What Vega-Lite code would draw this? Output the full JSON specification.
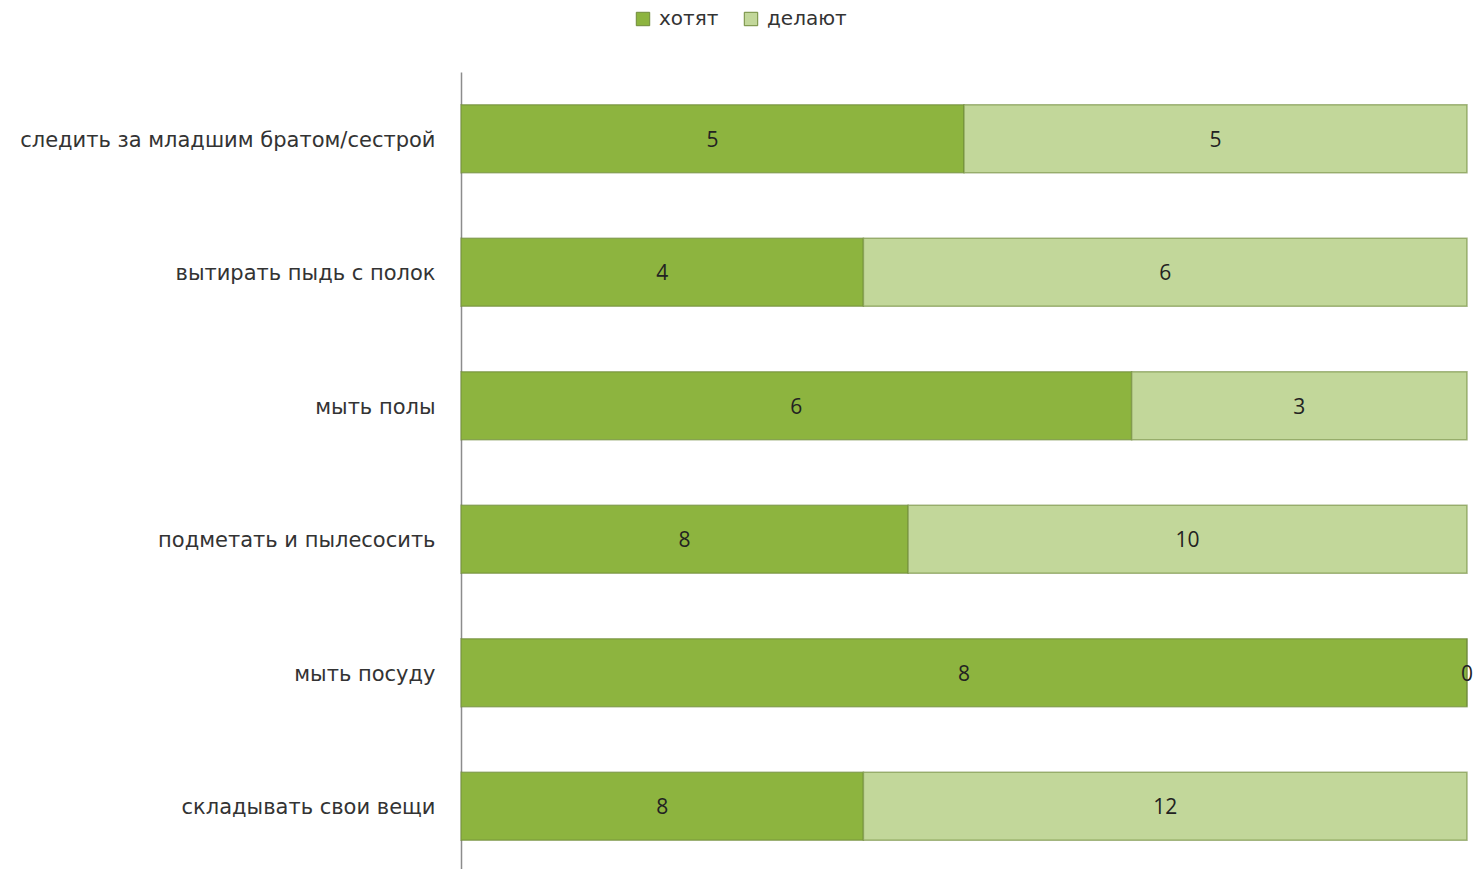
{
  "$schema": "https://vega.github.io/schema/vega-lite/v6.json",
  "autosize": "none",
  "padding": {"left": 461, "top": 72, "right": 11, "bottom": 0},
  "width": 1006,
  "height": 801,
  "background": "white",
  "view": {"stroke": null},
  "data": {"values": [
    {"task": "следить за младшим братом/сестрой", "series": "хотят", "k": 1, "value": 5},
    {"task": "следить за младшим братом/сестрой", "series": "делают", "k": 2, "value": 5},
    {"task": "вытирать пыдь с полок", "series": "хотят", "k": 1, "value": 4},
    {"task": "вытирать пыдь с полок", "series": "делают", "k": 2, "value": 6},
    {"task": "мыть полы", "series": "хотят", "k": 1, "value": 6},
    {"task": "мыть полы", "series": "делают", "k": 2, "value": 3},
    {"task": "подметать и пылесосить", "series": "хотят", "k": 1, "value": 8},
    {"task": "подметать и пылесосить", "series": "делают", "k": 2, "value": 10},
    {"task": "мыть посуду", "series": "хотят", "k": 1, "value": 8},
    {"task": "мыть посуду", "series": "делают", "k": 2, "value": 0},
    {"task": "складывать свои вещи", "series": "хотят", "k": 1, "value": 8},
    {"task": "складывать свои вещи", "series": "делают", "k": 2, "value": 12}
  ]},
  "encoding": {
    "y": {
      "field": "task", "type": "nominal", "sort": null,
      "scale": {"paddingInner": 0.49, "paddingOuter": 0.245},
      "axis": {"title": null, "ticks": false, "domainColor": "#8c8c8c", "domainWidth": 1.5,
               "labelFont": "DejaVu Sans", "labelFontSize": 21, "labelColor": "#333333", "labelPadding": 26, "labelLimit": 460, "labelOffset": 2}
    },
    "x": {"field": "value", "type": "quantitative", "stack": "normalize", "axis": null, "scale": {"domain": [0, 1], "nice": false}},
    "order": {"field": "k", "type": "quantitative"}
  },
  "layer": [
    {
      "mark": {"type": "bar", "stroke": "#6f8a3a", "strokeOpacity": 0.6, "strokeWidth": 1.5},
      "encoding": {
        "color": {"field": "series", "type": "nominal",
          "scale": {"domain": ["хотят", "делают"], "range": ["#8db43f", "#c2d79a"]},
          "legend": {"title": null, "orient": "none", "direction": "horizontal", "legendX": 172, "legendY": -63,
                     "symbolType": "square", "symbolSize": 180, "symbolStrokeColor": "#6f8a3a", "symbolStrokeWidth": 1,
                     "labelFont": "DejaVu Sans", "labelFontSize": 20, "labelColor": "#333333", "columnPadding": 22, "labelOffset": 6}
        }
      }
    },
    {
      "mark": {"type": "text", "font": "Open Sans", "fontSize": 21, "color": "#222222", "dy": 2},
      "encoding": {
        "x": {"field": "value", "type": "quantitative", "stack": "normalize", "bandPosition": 0.5},
        "text": {"field": "value", "type": "quantitative"}
      }
    }
  ]
}
